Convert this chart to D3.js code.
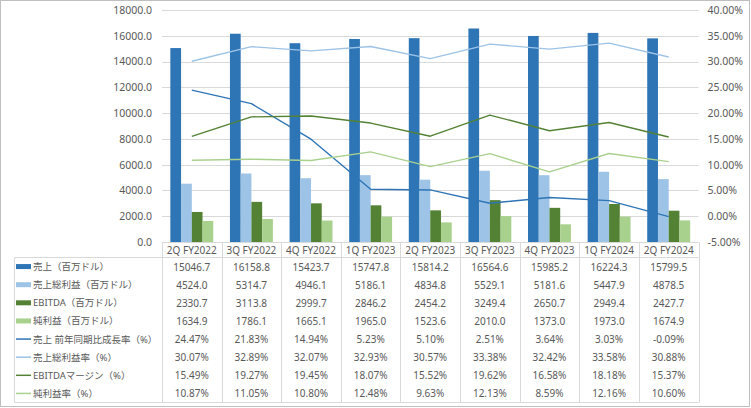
<!DOCTYPE html>
<html>
<head>
<meta charset="utf-8">
<script src="https://cdn.jsdelivr.net/npm/d3@7"></script>
<style>
  html, body { margin: 0; padding: 0; background: #fff; }
  svg { display: block; }
  text { font-family: "Noto Sans", "Noto Sans CJK JP", sans-serif; fill: #595959; }
</style>
</head>
<body>
<svg id="chart" width="751" height="408"></svg>
<script>
const categories = ["2Q FY2022","3Q FY2022","4Q FY2022","1Q FY2023","2Q FY2023","3Q FY2023","4Q FY2023","1Q FY2024","2Q FY2024"];
const sales        = [15046.7, 16158.8, 15423.7, 15747.8, 15814.2, 16564.6, 15985.2, 16224.3, 15799.5];
const grossProfit  = [4524.0, 5314.7, 4946.1, 5186.1, 4834.8, 5529.1, 5181.6, 5447.9, 4878.5];
const ebitda       = [2330.7, 3113.8, 2999.7, 2846.2, 2454.2, 3249.4, 2650.7, 2949.4, 2427.7];
const netIncome    = [1634.9, 1786.1, 1665.1, 1965.0, 1523.6, 2010.0, 1373.0, 1973.0, 1674.9];
const salesGrowth  = [24.47, 21.83, 14.94, 5.23, 5.10, 2.51, 3.64, 3.03, -0.09];
const grossMargin  = [30.07, 32.89, 32.07, 32.93, 30.57, 33.38, 32.42, 33.58, 30.88];
const ebitdaMargin = [15.49, 19.27, 19.45, 18.07, 15.52, 19.62, 16.58, 18.18, 15.37];
const netMargin    = [10.87, 11.05, 10.80, 12.48, 9.63, 12.13, 8.59, 12.16, 10.60];
const leftTicks  = [0, 2000, 4000, 6000, 8000, 10000, 12000, 14000, 16000, 18000];
const rightTicks = [-5, 0, 5, 10, 15, 20, 25, 30, 35, 40];

const barSeries = [
  { name: "売上（百万ドル）", values: sales, color: "#2E75B6" },
  { name: "売上総利益（百万ドル）", values: grossProfit, color: "#9DC3E6" },
  { name: "EBITDA（百万ドル）", values: ebitda, color: "#548235" },
  { name: "純利益（百万ドル）", values: netIncome, color: "#A9D18E" }
];
const lineSeries = [
  { name: "売上 前年同期比成長率（%）", values: salesGrowth, color: "#2E75B6" },
  { name: "売上総利益率（%）", values: grossMargin, color: "#9DC3E6" },
  { name: "EBITDAマージン（%）", values: ebitdaMargin, color: "#548235" },
  { name: "純利益率（%）", values: netMargin, color: "#A9D18E" }
];

const svg = d3.select("#chart");
const L = 162, R = 698.5, T = 10, B = 242;
const gridColor = "#D9D9D9";
const fmt1 = d => d3.format(".1f")(d).replace("\u2212", "-");
const fmtPct = d => d3.format(".2f")(d).replace("\u2212", "-") + "%";

// outer border
svg.append("rect").attr("x", 0.5).attr("y", 0.5).attr("width", 749).attr("height", 406)
  .attr("fill", "none").attr("stroke", "#BFBFBF");

const x = d3.scaleBand().domain(categories).range([L, R]).padding(0);
const bw = x.bandwidth();
const x1 = d3.scaleBand().domain(d3.range(barSeries.length)).range([bw * 0.14, bw * 0.86]).padding(0);
const yL = d3.scaleLinear().domain([0, 18000]).range([B, T]);
const yR = d3.scaleLinear().domain([-5, 40]).range([B, T]);

// gridlines
svg.append("g").selectAll("line").data(leftTicks.slice(1)).join("line")
  .attr("x1", L).attr("x2", R)
  .attr("y1", d => Math.round(yL(d)) + 0.5).attr("y2", d => Math.round(yL(d)) + 0.5)
  .attr("stroke", gridColor).attr("stroke-width", 1);

// left axis labels
const axL = svg.append("g").attr("transform", `translate(${L - 10},0)`)
  .call(d3.axisLeft(yL).tickValues(leftTicks).tickFormat(fmt1).tickSize(0).tickPadding(0));
axL.select(".domain").remove();
axL.selectAll("text").style("font-size", "10.5px").attr("fill", "#595959");

// right axis labels
const axR = svg.append("g").attr("transform", `translate(${R + 9},0)`)
  .call(d3.axisRight(yR).tickValues(rightTicks).tickFormat(fmtPct).tickSize(0).tickPadding(0));
axR.select(".domain").remove();
axR.selectAll("text").style("font-size", "10.5px").attr("fill", "#595959");

// bars
barSeries.forEach((s, i) => {
  svg.append("g").selectAll("rect").data(s.values).join("rect")
    .attr("x", (d, j) => x(categories[j]) + x1(i))
    .attr("width", x1.bandwidth())
    .attr("y", d => yL(d))
    .attr("height", d => yL(0) - yL(d))
    .attr("fill", s.color);
});

// lines
const line = d3.line().x((d, j) => x(categories[j]) + bw / 2).y(d => yR(d));
lineSeries.forEach(s => {
  svg.append("path").datum(s.values).attr("d", line)
    .attr("fill", "none").attr("stroke", s.color).attr("stroke-width", 1.4)
    .attr("stroke-linejoin", "round");
});

// data table
const tblTop = B, hdrBottom = 257.5, tblBottom = 402.5, tblLeft = 14.5;
const rowH = (tblBottom - hdrBottom) / 8;
const tg = svg.append("g");
tg.append("line").attr("x1", L).attr("x2", R).attr("y1", tblTop + 0.5).attr("y2", tblTop + 0.5).attr("stroke", gridColor);
tg.append("line").attr("x1", tblLeft).attr("x2", R).attr("y1", hdrBottom).attr("y2", hdrBottom).attr("stroke", gridColor);
tg.append("line").attr("x1", tblLeft).attr("x2", R).attr("y1", tblBottom).attr("y2", tblBottom).attr("stroke", gridColor);
tg.append("line").attr("x1", tblLeft).attr("x2", tblLeft).attr("y1", hdrBottom).attr("y2", tblBottom).attr("stroke", gridColor);
const bounds = categories.map(c => x(c)).concat([R]);
tg.selectAll("line.v").data(bounds).join("line").attr("class", "v")
  .attr("x1", d => Math.round(d) + 0.5).attr("x2", d => Math.round(d) + 0.5)
  .attr("y1", tblTop).attr("y2", tblBottom).attr("stroke", gridColor);
tg.selectAll("text.h").data(categories).join("text").attr("class", "h")
  .attr("x", d => x(d) + bw / 2).attr("y", (tblTop + hdrBottom) / 2)
  .attr("text-anchor", "middle").attr("dominant-baseline", "central")
  .style("font-size", "10px").text(d => d);

const rows = barSeries.map(s => ({ ...s, type: "bar", fmt: fmt1 }))
  .concat(lineSeries.map(s => ({ ...s, type: "line", fmt: fmtPct })));
rows.forEach((r, i) => {
  const cy = hdrBottom + rowH * (i + 0.5);
  if (r.type === "bar") {
    tg.append("rect").attr("x", 16).attr("y", cy - 2.5).attr("width", 15).attr("height", 5).attr("fill", r.color);
  } else {
    tg.append("line").attr("x1", 16).attr("x2", 31).attr("y1", cy).attr("y2", cy)
      .attr("stroke", r.color).attr("stroke-width", 1.5);
  }
  tg.append("text").attr("x", 33).attr("y", cy).attr("dominant-baseline", "central")
    .style("font-size", "9.5px").text(r.name);
  tg.selectAll(null).data(r.values).join("text")
    .attr("x", (d, j) => x(categories[j]) + bw / 2).attr("y", cy)
    .attr("text-anchor", "middle").attr("dominant-baseline", "central")
    .style("font-size", "10px").text(d => r.fmt(d));
});
</script>
</body>
</html>
